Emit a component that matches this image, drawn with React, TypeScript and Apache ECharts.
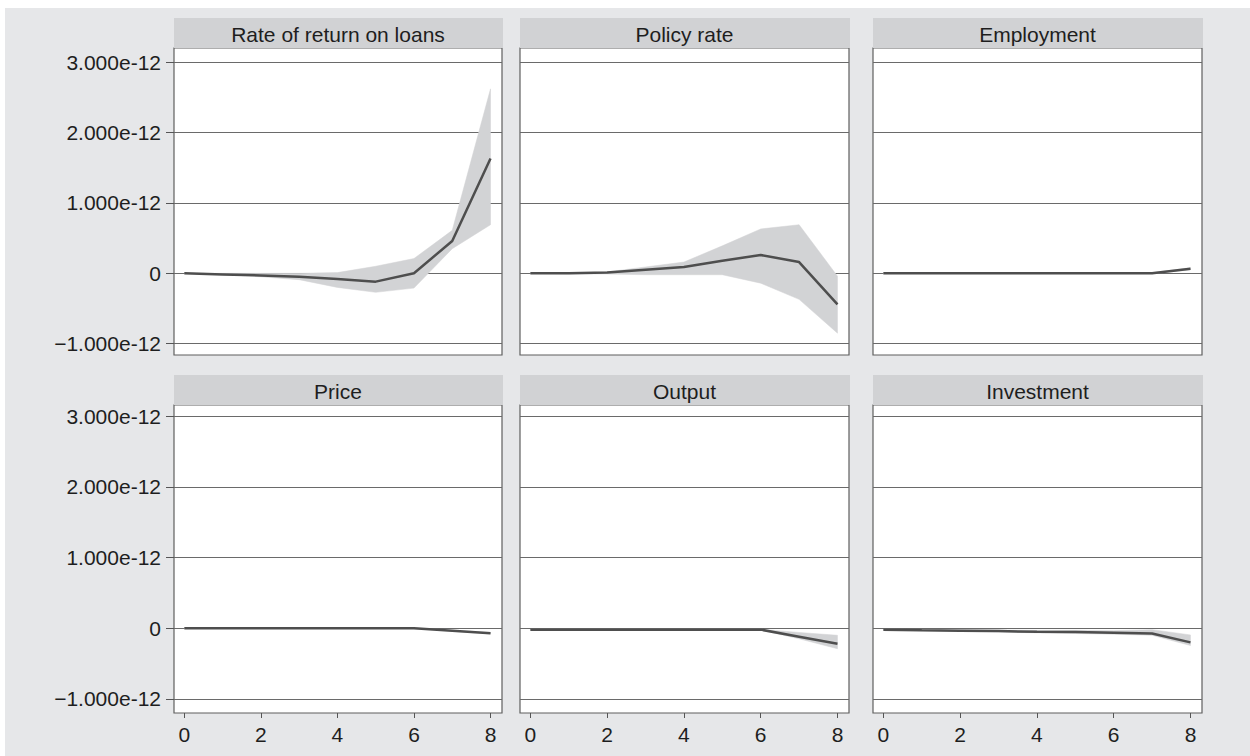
import React, { useEffect, useRef } from "react";
import * as echarts from "echarts";

// Horizon (periods after the shock)
const STEPS = [0, 1, 2, 3, 4, 5, 6, 7, 8];
const X_TICKS = [0, 2, 4, 6, 8];
// Y values are expressed in units of 1e-12
const Y_TICKS = [-1, 0, 1, 2, 3];

const PANEL_TITLES = [
  "Rate of return on loans",
  "Policy rate",
  "Employment",
  "Price",
  "Output",
  "Investment",
];

// Rate of return on loans
const loansMean = [0, -0.015, -0.03, -0.047, -0.08, -0.118, 0.0, 0.46, 1.63];
const loansUpper = [0, 0.0, 0.0, 0.0, 0.01, 0.1, 0.21, 0.61, 2.62];
const loansLower = [0, -0.015, -0.05, -0.09, -0.2, -0.27, -0.21, 0.35, 0.69];

// Policy rate
const policyMean = [0, 0, 0.01, 0.05, 0.09, 0.18, 0.26, 0.16, -0.44];
const policyUpper = [0, 0.0, 0.02, 0.09, 0.16, 0.39, 0.63, 0.69, -0.04];
const policyLower = [0, -0.01, -0.01, -0.02, -0.02, -0.02, -0.14, -0.37, -0.85];

// Employment
const employMean = [0, 0, 0, 0, 0, 0, 0, 0, 0.065];
const employUpper = [0.005, 0.005, 0.005, 0.005, 0.005, 0.005, 0.005, 0.01, 0.08];
const employLower = [-0.005, -0.005, -0.005, -0.005, -0.005, -0.005, -0.005, -0.005, 0.05];

// Price
const priceMean = [0, 0, 0, 0, 0, 0, 0, -0.035, -0.07];
const priceUpper = [0.004, 0.004, 0.004, 0.004, 0.004, 0.004, 0.004, -0.028, -0.06];
const priceLower = [-0.004, -0.004, -0.004, -0.004, -0.004, -0.004, -0.004, -0.042, -0.08];

// Output
const outputMean = [-0.02, -0.02, -0.02, -0.02, -0.02, -0.02, -0.02, -0.12, -0.22];
const outputUpper = [-0.015, -0.015, -0.015, -0.015, -0.015, -0.015, -0.015, -0.06, -0.1];
const outputLower = [-0.025, -0.025, -0.025, -0.025, -0.025, -0.025, -0.025, -0.15, -0.29];

// Investment
const investMean = [-0.02, -0.03, -0.035, -0.04, -0.05, -0.055, -0.065, -0.075, -0.2];
const investUpper = [-0.015, -0.02, -0.02, -0.025, -0.03, -0.03, -0.035, -0.02, -0.095];
const investLower = [-0.025, -0.035, -0.045, -0.055, -0.065, -0.075, -0.085, -0.1, -0.245];

const MEANS = [loansMean, policyMean, employMean, priceMean, outputMean, investMean];
const UPPERS = [loansUpper, policyUpper, employUpper, priceUpper, outputUpper, investUpper];
const LOWERS = [loansLower, policyLower, employLower, priceLower, outputLower, investLower];

// Layout
const COL_LEFT = [174, 520, 873];
const COL_WIDTH = [328, 329, 329];
const ROW_TOP = [48, 405];
const ROW_HEIGHT = [307, 308];
const HEADER_H = 30;
const Y_RANGE = [
  [-1.16, 3.2],
  [-1.2, 3.16],
];
const X_RANGE = [-0.27, 8.3];

const FONT = "'Liberation Sans', Arial, Helvetica, sans-serif";
const BG = "#e6e7e9";
const HEADER_BG = "#d1d2d4";
const BAND = "#d2d3d5";
const LINE = "#4e4e4e";
const TEXT = "#1e1e1e";

function fmtY(v: number): string {
  if (v === 0) return "0";
  return (v < 0 ? "\u2212" : "") + Math.abs(v).toFixed(3) + "e-12";
}

export default function App() {
  const ref = useRef<HTMLDivElement>(null);

  useEffect(() => {
    if (!ref.current) return;
    const chart = echarts.init(ref.current, undefined, { renderer: "svg" });

    const grids: any[] = [];
    const xAxes: any[] = [];
    const yAxes: any[] = [];
    const series: any[] = [];
    const graphics: any[] = [
      {
        type: "rect",
        z: -10,
        silent: true,
        shape: { x: 5, y: 8, width: 1245, height: 748 },
        style: { fill: BG },
      },
    ];

    PANEL_TITLES.forEach((title, i) => {
      const r = Math.floor(i / 3);
      const c = i % 3;
      const left = COL_LEFT[c];
      const top = ROW_TOP[r];
      const width = COL_WIDTH[c];
      const height = ROW_HEIGHT[r];

      graphics.push({
        type: "rect",
        silent: true,
        shape: { x: left, y: top - HEADER_H, width: width + 1, height: HEADER_H },
        style: { fill: HEADER_BG },
      });
      graphics.push({
        type: "text",
        silent: true,
        x: left + width / 2,
        y: top - HEADER_H / 2 + 1,
        style: {
          text: title,
          fill: TEXT,
          font: `21px ${FONT}`,
          textAlign: "center",
          textVerticalAlign: "middle",
        },
      });

      grids.push({
        left,
        top,
        width,
        height,
        show: true,
        backgroundColor: "#ffffff",
        borderColor: "#5f5f5f",
        borderWidth: 1.2,
      });

      xAxes.push({
        type: "value",
        gridIndex: i,
        position: "bottom",
        min: X_RANGE[0],
        max: X_RANGE[1],
        axisLine: { show: false, onZero: false },
        splitLine: { show: false },
        axisTick: {
          show: r === 1,
          customValues: X_TICKS,
          length: 5,
          lineStyle: { color: "#555", width: 1 },
        },
        axisLabel: {
          show: r === 1,
          customValues: X_TICKS,
          margin: 11,
          fontSize: 21,
          fontFamily: FONT,
          color: TEXT,
        },
      });

      yAxes.push({
        type: "value",
        gridIndex: i,
        position: "left",
        min: Y_RANGE[r][0],
        max: Y_RANGE[r][1],
        axisLine: { show: false, onZero: false },
        axisTick: {
          show: c === 0,
          customValues: Y_TICKS,
          length: 8,
          lineStyle: { color: "#555", width: 1 },
        },
        axisLabel: {
          show: c === 0,
          customValues: Y_TICKS,
          margin: 13,
          fontSize: 21,
          fontFamily: FONT,
          color: TEXT,
          formatter: (v: number) => fmtY(v),
        },
        splitLine: { show: true, lineStyle: { color: "#6a6a6a", width: 1 } },
      });

      const upper = UPPERS[i];
      const lower = LOWERS[i];
      const mean = MEANS[i];

      series.push({
        type: "custom",
        xAxisIndex: i,
        yAxisIndex: i,
        silent: true,
        z: 2,
        data: STEPS.map((s, k) => [s, lower[k], upper[k]]),
        encode: { x: 0, y: [1, 2] },
        renderItem: (params: any, api: any) => {
          if (params.dataIndex !== 0) return null;
          const pts: number[][] = [];
          STEPS.forEach((s, k) => pts.push(api.coord([s, upper[k]])));
          for (let k = STEPS.length - 1; k >= 0; k--) {
            pts.push(api.coord([STEPS[k], lower[k]]));
          }
          return {
            type: "polygon",
            shape: { points: pts },
            style: { fill: BAND, stroke: BAND, lineWidth: 0.5 },
          };
        },
      });

      series.push({
        type: "line",
        xAxisIndex: i,
        yAxisIndex: i,
        z: 5,
        symbol: "none",
        silent: true,
        data: STEPS.map((s, k) => [s, mean[k]]),
        lineStyle: { color: LINE, width: 2.5 },
      });
    });

    chart.setOption({
      animation: false,
      backgroundColor: "#ffffff",
      grid: grids,
      xAxis: xAxes,
      yAxis: yAxes,
      series,
      graphic: { elements: graphics },
    });

    return () => chart.dispose();
  }, []);

  return (
    <div
      ref={ref}
      style={{ position: "absolute", left: 0, top: 0, width: 1250, height: 756 }}
    />
  );
}
